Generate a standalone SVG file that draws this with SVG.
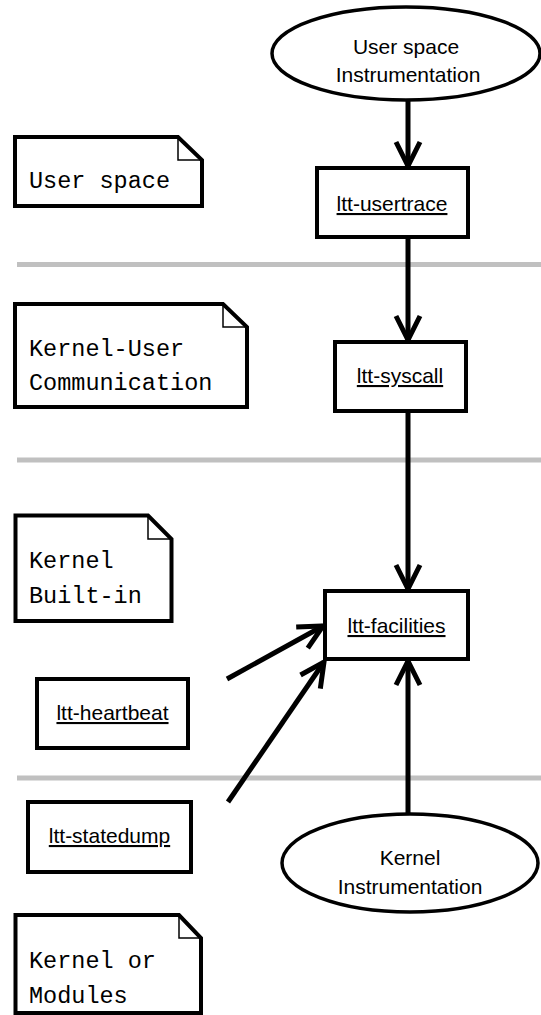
<svg xmlns="http://www.w3.org/2000/svg" width="541" height="1015" viewBox="0 0 541 1015">
<style>
.bg{fill:#fff}
.sep{stroke:#c0c0c0;stroke-width:5}
.box{fill:#fff;stroke:#000;stroke-width:4}
.ell{fill:#fff;stroke:#000;stroke-width:3.5}
.note{fill:#fff;stroke:#000;stroke-width:4;stroke-linejoin:miter}
.fold{fill:none;stroke:#000;stroke-width:1.5}
.conn{stroke:#000;stroke-width:5;fill:none}
.lbl{font-family:"Liberation Sans",Arial,Helvetica,sans-serif;font-size:21px;fill:#000;text-anchor:middle}
.ul{text-decoration:underline}
.mono{font-family:"Liberation Mono","Courier New",monospace;font-size:23.5px;fill:#000}
</style>
<defs>
<marker id="ah" viewBox="0 0 28 26" refX="25" refY="13" markerWidth="28" markerHeight="26" markerUnits="userSpaceOnUse" orient="auto" overflow="visible">
<path d="M1,1 L25,13 L1,25" fill="none" stroke="#000" stroke-width="5"/>
</marker>
</defs>
<rect class="bg" x="0" y="0" width="541" height="1015"/>
<g id="separators">
<line class="sep" x1="17" y1="264.5" x2="541" y2="264.5"/>
<line class="sep" x1="17" y1="460" x2="541" y2="460"/>
<line class="sep" x1="17" y1="778" x2="541" y2="778"/>
</g>
<g id="connectors">
<line class="conn" x1="408" y1="100" x2="408" y2="166" marker-end="url(#ah)"/>
<line class="conn" x1="408" y1="237" x2="408" y2="340" marker-end="url(#ah)"/>
<line class="conn" x1="408" y1="411" x2="408" y2="589" marker-end="url(#ah)"/>
<line class="conn" x1="408" y1="814" x2="408" y2="661" marker-end="url(#ah)"/>
<line class="conn" x1="227" y1="679" x2="323" y2="626" marker-end="url(#ah)"/>
<line class="conn" x1="228" y1="802" x2="324" y2="662" marker-end="url(#ah)"/>
</g>
<g id="user-space-instrumentation">
<ellipse class="ell" cx="406" cy="53.5" rx="134" ry="46.5"/>
<text class="lbl" x="406" y="54">User space</text>
<text class="lbl" x="408" y="82">Instrumentation</text>
</g>
<g id="ltt-usertrace">
<rect class="box" x="317" y="168" width="151" height="69"/>
<text class="lbl ul" x="392" y="211">ltt-usertrace</text>
</g>
<g id="ltt-syscall">
<rect class="box" x="335" y="342" width="131" height="69"/>
<text class="lbl ul" x="400" y="383">ltt-syscall</text>
</g>
<g id="ltt-facilities">
<rect class="box" x="325" y="591" width="143" height="68"/>
<text class="lbl ul" x="396.5" y="633">ltt-facilities</text>
</g>
<g id="ltt-heartbeat">
<rect class="box" x="37" y="679" width="151" height="69"/>
<text class="lbl ul" x="112.5" y="720">ltt-heartbeat</text>
</g>
<g id="ltt-statedump">
<rect class="box" x="28" y="802" width="163" height="70"/>
<text class="lbl ul" x="109.5" y="843">ltt-statedump</text>
</g>
<g id="kernel-instrumentation">
<ellipse class="ell" cx="410" cy="863" rx="128" ry="49"/>
<text class="lbl" x="410" y="865">Kernel</text>
<text class="lbl" x="410" y="894">Instrumentation</text>
</g>
<g id="note-user-space">
<path class="note" d="M15,137 H178 L202,160 V206 H15 Z"/>
<path class="fold" d="M178,137 V160 H202"/>
<text class="mono" x="29" y="188">User space</text>
</g>
<g id="note-kernel-user">
<path class="note" d="M15,304 H223 L247,327 V407 H15 Z"/>
<path class="fold" d="M223,304 V327 H247"/>
<text class="mono" x="29" y="356">Kernel-User</text>
<text class="mono" x="29" y="390">Communication</text>
</g>
<g id="note-kernel-builtin">
<path class="note" d="M15.5,515.5 H148 L171.5,539 V621 H15.5 Z"/>
<path class="fold" d="M148,515.5 V539 H171.5"/>
<text class="mono" x="29" y="568">Kernel</text>
<text class="mono" x="29" y="603">Built-in</text>
</g>
<g id="note-kernel-modules">
<path class="note" d="M15.5,915 H179 L201,938 V1013 H15.5 Z"/>
<path class="fold" d="M179,915 V938 H201"/>
<text class="mono" x="29" y="968">Kernel or</text>
<text class="mono" x="29" y="1003">Modules</text>
</g>
</svg>
